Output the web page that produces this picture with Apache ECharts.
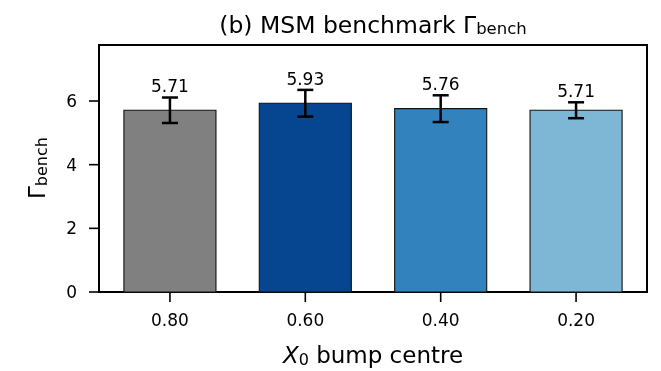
<!DOCTYPE html>
<html>
<head>
<meta charset="utf-8">
<script src="https://cdn.jsdelivr.net/npm/echarts@6/dist/echarts.min.js"></script>
<style>
  html, body { margin: 0; padding: 0; background: #fff; }
  #chart { width: 661px; height: 371px; }
</style>
</head>
<body>
<div id="chart"></div>
<script>
// Bump-centre positions and the MSM benchmark rate measured at each
const categories = ['0.80', '0.60', '0.40', '0.20'];
const gammaBench = [5.71, 5.93, 5.76, 5.71];
const gammaErr = [0.40, 0.42, 0.42, 0.25];
const barColors = ['#808080', '#064590', '#3282bd', '#7eb6d6'];
const yTicks = [0, 2, 4, 6];
const yTickLabels = ['0', '2', '4', '6'];

const FONT = 'DejaVu Sans';
const X_MIN = -0.524, X_MAX = 3.524;
const Y_MIN = 0, Y_MAX = 7.76;
const BAR_HALF = 0.34;   // half bar width in category units
const CAP_HALF = 8;      // error-bar cap half width, px
const TICK_LEN = 10;

const chart = echarts.init(document.getElementById('chart'), null, { renderer: 'canvas' });

const barData = gammaBench.map((v, i) => [i, v]);
const errData = gammaBench.map((v, i) => [i, v, gammaErr[i]]);
const xTickData = categories.map((c, i) => [i, Y_MIN]);
const yTickData = yTicks.map(v => [X_MIN, v]);

const tickStyle = { stroke: '#000', lineWidth: 1.6 };
const labelFont = '17px "DejaVu Sans"';

const option = {
  animation: false,
  grid: {
    left: 99, top: 45, width: 548, height: 247,
    show: true, borderColor: '#000', borderWidth: 2,
    backgroundColor: 'transparent',
    containLabel: false, outerBoundsMode: 'none'
  },
  xAxis: {
    type: 'value', min: X_MIN, max: X_MAX,
    splitLine: { show: false }, axisLine: { show: false },
    axisTick: { show: false }, axisLabel: { show: false }
  },
  yAxis: {
    type: 'value', min: Y_MIN, max: Y_MAX, interval: 2,
    splitLine: { show: false }, axisLine: { show: false },
    axisTick: { show: false }, axisLabel: { show: false }
  },
  graphic: [
    {
      type: 'text', x: 373, y: 27,
      style: {
        text: '{m|(b) MSM benchmark Γ}{s|bench}',
        align: 'center', verticalAlign: 'middle',
        rich: {
          m: { fontFamily: FONT, fontSize: 23.5, lineHeight: 23, fill: '#000' },
          s: { fontFamily: FONT, fontSize: 16.5, lineHeight: 9, verticalAlign: 'bottom', fill: '#000' }
        }
      }
    },
    {
      type: 'text', x: 373, y: 357,
      style: {
        text: '{i|X}{s|0}{m| bump centre}',
        align: 'center', verticalAlign: 'middle',
        rich: {
          i: { fontFamily: FONT, fontStyle: 'italic', fontSize: 23, lineHeight: 23, fill: '#000' },
          s: { fontFamily: FONT, fontSize: 16, lineHeight: 12, verticalAlign: 'bottom', fill: '#000' },
          m: { fontFamily: FONT, fontSize: 23, lineHeight: 23, fill: '#000' }
        }
      }
    },
    {
      type: 'text', x: 39, y: 168, rotation: Math.PI / 2,
      style: {
        text: '{m|Γ}{s|bench}',
        align: 'center', verticalAlign: 'middle',
        rich: {
          m: { fontFamily: FONT, fontSize: 23, lineHeight: 23, fill: '#000' },
          s: { fontFamily: FONT, fontSize: 16, lineHeight: 9, verticalAlign: 'bottom', fill: '#000' }
        }
      }
    }
  ],
  series: [
    {
      type: 'custom',
      name: 'bars',
      data: barData,
      clip: false,
      renderItem: function (params, api) {
        const i = api.value(0), v = api.value(1);
        const p0 = api.coord([i - BAR_HALF, v]);
        const p1 = api.coord([i + BAR_HALF, 0]);
        return {
          type: 'rect',
          shape: { x: p0[0], y: p0[1], width: p1[0] - p0[0], height: p1[1] - p0[1] },
          style: { fill: barColors[params.dataIndex], stroke: '#111', lineWidth: 1.1 }
        };
      }
    },
    {
      type: 'custom',
      name: 'errors',
      data: errData,
      clip: false,
      z: 3,
      renderItem: function (params, api) {
        const i = api.value(0), v = api.value(1), e = api.value(2);
        const top = api.coord([i, v + e]);
        const bot = api.coord([i, v - e]);
        const ls = { stroke: '#000', lineWidth: 2.5 };
        return {
          type: 'group',
          children: [
            { type: 'line', shape: { x1: top[0], y1: top[1], x2: bot[0], y2: bot[1] }, style: ls },
            { type: 'line', shape: { x1: top[0] - CAP_HALF, y1: top[1], x2: top[0] + CAP_HALF, y2: top[1] }, style: ls },
            { type: 'line', shape: { x1: bot[0] - CAP_HALF, y1: bot[1], x2: bot[0] + CAP_HALF, y2: bot[1] }, style: ls },
            {
              type: 'text', x: top[0], y: top[1] - 9.5,
              style: {
                text: v.toFixed(2), fill: '#000',
                font: labelFont, align: 'center', verticalAlign: 'middle'
              }
            }
          ]
        };
      }
    },
    {
      // x-axis ticks and category labels
      type: 'custom',
      name: 'xticks',
      data: xTickData,
      clip: false,
      silent: true,
      renderItem: function (params, api) {
        const p = api.coord([api.value(0), api.value(1)]);
        return {
          type: 'group',
          children: [
            { type: 'line', shape: { x1: p[0], y1: p[1], x2: p[0], y2: p[1] + TICK_LEN }, style: tickStyle },
            {
              type: 'text', x: p[0], y: p[1] + 30,
              style: { text: categories[params.dataIndex], fill: '#000', font: labelFont, align: 'center', verticalAlign: 'middle' }
            }
          ]
        };
      }
    },
    {
      // y-axis ticks and value labels
      type: 'custom',
      name: 'yticks',
      data: yTickData,
      clip: false,
      silent: true,
      renderItem: function (params, api) {
        const p = api.coord([api.value(0), api.value(1)]);
        return {
          type: 'group',
          children: [
            { type: 'line', shape: { x1: p[0], y1: p[1], x2: p[0] - TICK_LEN, y2: p[1] }, style: tickStyle },
            {
              type: 'text', x: p[0] - 22, y: p[1] + 1.5,
              style: { text: yTickLabels[params.dataIndex], fill: '#000', font: labelFont, align: 'right', verticalAlign: 'middle' }
            }
          ]
        };
      }
    }
  ]
};

chart.setOption(option);
</script>
</body>
</html>
